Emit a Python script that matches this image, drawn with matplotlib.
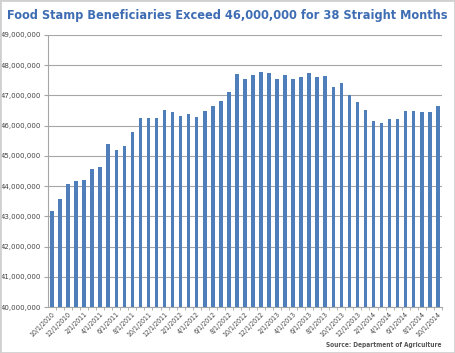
import matplotlib
matplotlib.use("Agg")
import matplotlib.pyplot as plt
import numpy as np
from matplotlib.patches import Rectangle

# monthly beneficiaries, 10/2010 - 10/2014
months = []
for i in range(49):
    m = (10 + i - 1) % 12 + 1
    y = 2010 + (10 + i - 1) // 12
    months.append("%d/1/%d" % (m, y))

beneficiaries = [
    43.18, 43.57, 44.08, 44.18, 44.20, 44.58, 44.64, 45.40, 45.18, 45.33,
    45.80, 46.25, 46.24, 46.27, 46.51, 46.45, 46.32, 46.39, 46.28, 46.48,
    46.65, 46.83, 47.10, 47.70, 47.53, 47.67, 47.76, 47.74, 47.53, 47.69,
    47.53, 47.61, 47.75, 47.61, 47.65, 47.28, 47.40, 47.02, 46.77, 46.52,
    46.15, 46.08, 46.23, 46.22, 46.48, 46.48, 46.46, 46.45, 46.65,
]
values = np.array(beneficiaries) * 1e6

title = "Food Stamp Beneficiaries Exceed 46,000,000 for 38 Straight Months"
source = "Source: Department of Agriculture"

fig = plt.figure(figsize=(4.55, 3.53), dpi=100)
fig.patch.set_facecolor("white")
fig.patches.append(Rectangle((0, 0), 1, 1, transform=fig.transFigure,
                             fill=False, edgecolor="#d0d0d0", linewidth=2))

ax = fig.add_axes([0.1055, 0.130, 0.8655, 0.771])
x = np.arange(len(values))
ax.bar(x, values, width=0.45, color="#4f7fba", zorder=3)

ax.set_ylim(40e6, 49e6)
ax.set_xlim(-0.5, len(values) - 0.5)
ax.set_yticks(np.arange(40e6, 49e6 + 1, 1e6))
ax.set_yticklabels(["{:,.0f}".format(v) for v in np.arange(40e6, 49e6 + 1, 1e6)],
                   fontsize=5, color="#444444")
ax.yaxis.grid(True, color="#a6a6a6", linewidth=0.8, zorder=0)

ax.set_xticks(x[::2])
ax.set_xticklabels(months[::2], rotation=45, ha="right", rotation_mode="anchor",
                   fontsize=5, color="#444444", fontstretch="condensed")
ax.set_xticks(x + 0.5, minor=True)
ax.tick_params(axis="x", which="major", length=0, pad=3)
ax.tick_params(axis="x", which="minor", length=2.5, color="#a6a6a6")
ax.tick_params(axis="y", length=3, color="#a6a6a6", pad=2)

for s in ["top", "right"]:
    ax.spines[s].set_visible(False)
ax.spines["left"].set_color("#a6a6a6")
ax.spines["bottom"].set_color("#a6a6a6")

t = fig.text(0.5, 0.955, title, ha="center", va="center", fontsize=10,
             fontweight="bold", color="#3f6db3", fontstretch="condensed",
             family="DejaVu Sans")
s = fig.text(0.970, 0.022, source, ha="right", va="center", fontsize=5.5,
             fontweight="bold", color="#555555", fontstretch="condensed",
             family="DejaVu Sans")

# shrink texts to the widths seen in the original
r = fig.canvas.get_renderer()
for txt, target in [(t, 438), (s, 115)]:
    w = txt.get_window_extent(r).width
    txt.set_fontsize(txt.get_fontsize() * target / w)

fig.savefig("out.png", dpi=100)
